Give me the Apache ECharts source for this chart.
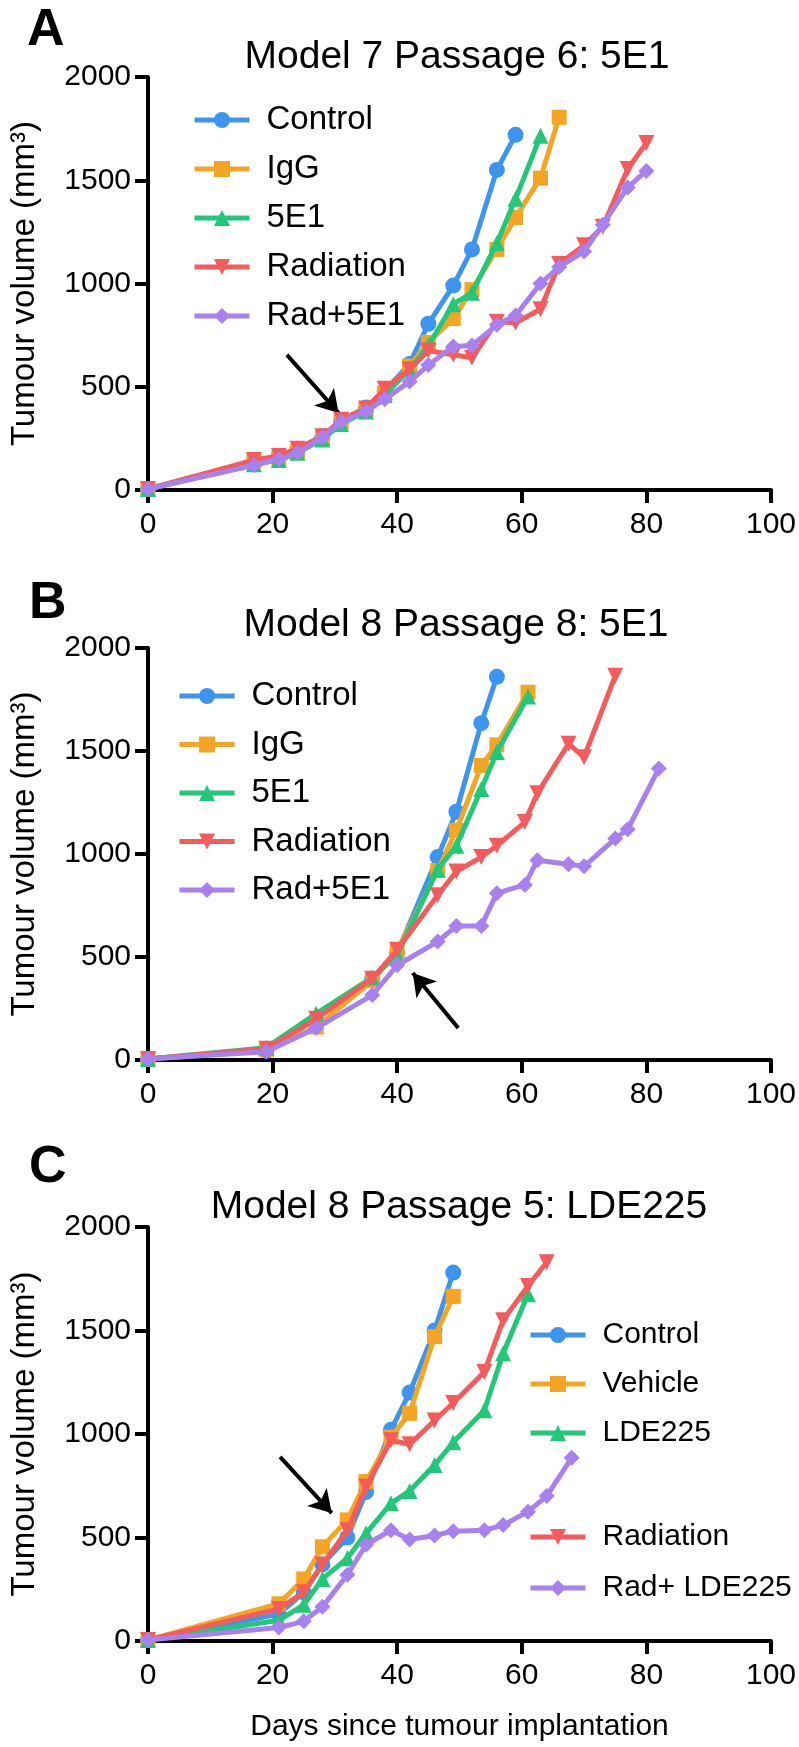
<!DOCTYPE html>
<html><head><meta charset="utf-8">
<script src="https://cdn.jsdelivr.net/npm/echarts@6/dist/echarts.min.js"></script>
<style>html,body{margin:0;padding:0;background:#fff}#c{width:799px;height:1747px}</style>
</head><body><div id="c"></div><script>
// ---------- data ----------
const xTicks = [0, 20, 40, 60, 80, 100];
const yTicks = [0, 500, 1000, 1500, 2000];

const titleA = 'Model 7 Passage 6: 5E1';
const titleB = 'Model 8 Passage 8: 5E1';
const titleC = 'Model 8 Passage 5: LDE225';
const namesAB = ['Control', 'IgG', '5E1', 'Radiation', 'Rad+5E1'];
const namesC = ['Control', 'Vehicle', 'LDE225', 'Radiation', 'Rad+ LDE225'];

// Panel A
const aControlDays = [0,17,21,24,28,31,35,38,42,45,49,52,56,59];
const aControl     = [5,135,165,200,260,335,400,480,610,805,990,1165,1550,1720];
const aIgGDays     = [0,17,21,24,28,31,35,38,42,45,49,52,56,59,63,66];
const aIgG         = [5,140,155,185,250,330,390,470,600,715,830,970,1165,1320,1510,1805];
const a5E1Days     = [0,17,21,24,28,31,35,38,42,45,49,52,56,59,63];
const a5E1         = [5,125,145,180,245,320,380,460,585,700,900,955,1195,1410,1715];
const aRadDays     = [0,17,21,24,28,31,35,38,42,45,49,52,56,59,63,66,70,73,77,80];
const aRad         = [5,145,165,200,260,340,395,490,585,675,655,640,815,810,875,1095,1185,1275,1555,1680];
const aRad5E1Days  = [0,17,21,24,28,31,35,38,42,45,49,52,56,59,63,66,70,73,77,80];
const aRad5E1      = [5,120,150,180,255,330,380,440,525,605,695,700,800,845,1000,1080,1155,1285,1465,1545];
const aArrow       = [[22.3, 654], [30.6, 373]];

// Panel B
const bControlDays = [0,19,27,36,40,46.5,49.5,53.5,56];
const bControl     = [5,45,200,395,520,985,1205,1635,1860];
const bIgGDays     = [0,19,27,36,40,46.5,49.5,53.5,56,61];
const bIgG         = [5,50,160,385,530,920,1115,1430,1530,1785];
const b5E1Days     = [0,19,27,36,40,46.5,49.5,53.5,56,61];
const b5E1         = [5,60,225,400,510,925,1040,1315,1495,1765];
const bRadDays     = [0,19,27,36,40,46.5,49.5,53.5,56,60.5,62.5,67.5,70,75];
const bRad         = [5,55,200,395,535,800,915,985,1040,1155,1295,1535,1470,1865];
const bRad5E1Days  = [0,19,27,36,40,46.5,49.5,53.5,56,60.5,62.5,67.5,70,75,77,82];
const bRad5E1      = [5,40,155,315,460,575,650,650,810,850,970,950,940,1075,1120,1415];
const bArrow       = [[49.8, 155], [42.5, 422]];

// Panel C
const cControlDays = [0,21,25,28,32,35,39,42,46,49];
const cControl     = [5,130,235,370,500,720,1020,1200,1500,1780];
const cVehicleDays = [0,21,25,28,32,35,39,42,46,49];
const cVehicle     = [5,180,300,455,585,770,985,1100,1470,1665];
const cLDEDays     = [0,21,25,28,32,35,39,42,46,49,54,57,61];
const cLDE         = [5,100,175,300,400,520,665,725,850,960,1115,1390,1675];
const cRadDays     = [0,21,25,28,32,35,39,42,46,49,54,57,61,64];
const cRad         = [5,155,235,370,535,745,970,950,1065,1150,1300,1550,1715,1830];
const cRadLDEDays  = [0,21,25,28,32,35,39,42,46,49,54,57,61,64,68];
const cRadLDE      = [5,65,95,165,320,465,535,490,510,530,535,560,625,700,885];
const cArrow       = [[21.2, 889], [29.5, 618]];

// ---------- styling ----------
const FONT = '"Liberation Sans", Arial, Helvetica, sans-serif';
const COLORS = ['#3d95f0', '#f5a524', '#21c877', '#f65b5b', '#a880f0'];
const SYMBOLS = ['circle', 'rect', 'triangle', 'triangle', 'diamond'];
const SIZES = [16, 15, 16, 16, 16];
const ROT = [0, 0, 0, 180, 0];

const grids = [
  {left: 145, right: 26, top: 77, height: 413},
  {left: 145, right: 26, top: 648, height: 412},
  {left: 145, right: 26, top: 1227, height: 414}
];

function pairs(d, v) { return d.map((x, i) => [x, v[i]]); }

function makeSeries(name, idx, g, days, vals, arrow) {
  const s = {
    type: 'line', name: name, xAxisIndex: g, yAxisIndex: g,
    data: pairs(days, vals),
    symbol: SYMBOLS[idx], symbolSize: SIZES[idx], symbolRotate: ROT[idx],
    showAllSymbol: true, clip: false,
    lineStyle: {color: COLORS[idx], width: 5},
    itemStyle: {color: COLORS[idx]},
    emphasis: {disabled: true},
    z: 2 + idx
  };
  if (arrow) {
    s.markLine = {
      silent: true, animation: false,
      symbol: ['none', 'arrow'], symbolSize: [20, 22],
      label: {show: false},
      lineStyle: {color: '#000', width: 4, type: 'solid'},
      data: [[{coord: arrow[0]}, {coord: arrow[1]}]]
    };
  }
  return s;
}

const series = [
  makeSeries(namesAB[0], 0, 0, aControlDays, aControl, aArrow),
  makeSeries(namesAB[1], 1, 0, aIgGDays, aIgG),
  makeSeries(namesAB[2], 2, 0, a5E1Days, a5E1),
  makeSeries(namesAB[3], 3, 0, aRadDays, aRad),
  makeSeries(namesAB[4], 4, 0, aRad5E1Days, aRad5E1),
  makeSeries(namesAB[0], 0, 1, bControlDays, bControl, bArrow),
  makeSeries(namesAB[1], 1, 1, bIgGDays, bIgG),
  makeSeries(namesAB[2], 2, 1, b5E1Days, b5E1),
  makeSeries(namesAB[3], 3, 1, bRadDays, bRad),
  makeSeries(namesAB[4], 4, 1, bRad5E1Days, bRad5E1),
  makeSeries(namesC[0], 0, 2, cControlDays, cControl, cArrow),
  makeSeries(namesC[1], 1, 2, cVehicleDays, cVehicle),
  makeSeries(namesC[2], 2, 2, cLDEDays, cLDE),
  makeSeries(namesC[3], 3, 2, cRadDays, cRad),
  makeSeries(namesC[4], 4, 2, cRadLDEDays, cRadLDE)
];

const axisBase = {
  axisLine: {show: true, onZero: false, lineStyle: {color: '#000', width: 4}},
  axisTick: {show: true, length: 13, lineStyle: {color: '#000', width: 4}},
  splitLine: {show: false}
};

const xAxes = [0, 1, 2].map(g => Object.assign({}, axisBase, {
  type: 'value', gridIndex: g, min: xTicks[0], max: xTicks[xTicks.length - 1],
  interval: xTicks[1] - xTicks[0],
  axisLabel: {fontSize: 30, color: '#000', fontFamily: FONT, margin: 20, formatter: v => String(v)},
  name: g === 2 ? 'Days since tumour implantation' : '',
  nameLocation: 'middle', nameGap: 71,
  nameTextStyle: {fontSize: 30, color: '#000', fontFamily: FONT}
}));
const yAxes = [0, 1, 2].map(g => Object.assign({}, axisBase, {
  type: 'value', gridIndex: g, min: yTicks[0], max: yTicks[yTicks.length - 1],
  interval: yTicks[1] - yTicks[0],
  axisLabel: {fontSize: 30, color: '#000', fontFamily: FONT, margin: 17, formatter: v => String(v)},
  name: 'Tumour volume (mm³)',
  nameLocation: 'middle', nameGap: 107,
  nameTextStyle: {fontSize: 33, color: '#000', fontFamily: FONT}
}));

function legend(names, left, top, pitch, fs) {
  return {
    data: names, orient: 'vertical', left: left, top: top,
    itemWidth: 55, itemHeight: 20, itemGap: pitch - 36,
    selectedMode: false,
    lineStyle: {width: 5},
    textStyle: {fontSize: fs, color: '#000', fontFamily: FONT, lineHeight: 36, padding: [0, 0, 0, 12]}
  };
}

const titleStyle = {fontSize: 39, fontWeight: 'normal', color: '#000', fontFamily: FONT};
const letterStyle = {fontSize: 52, fontWeight: 'bold', color: '#000', fontFamily: FONT};

const option = {
  animation: false,
  backgroundColor: '#fff',
  textStyle: {fontFamily: FONT},
  title: [
    {text: titleA, left: 452, top: 33, textAlign: 'center', textStyle: titleStyle},
    {text: titleB, left: 451, top: 601, textAlign: 'center', textStyle: titleStyle},
    {text: titleC, left: 454, top: 1183, textAlign: 'center', textStyle: titleStyle},
    {text: 'A', left: 22, top: 0, textStyle: letterStyle},
    {text: 'B', left: 24, top: 573, textStyle: letterStyle},
    {text: 'C', left: 24, top: 1137, textStyle: letterStyle}
  ],
  legend: [
    legend(namesAB, 187, 97, 49, 33),
    legend(namesAB, 172, 673, 48.5, 33),
    legend(namesC.slice(0, 3), 523, 1312, 49, 30),
    legend(namesC.slice(3), 523, 1514, 51, 30)
  ],
  grid: grids,
  xAxis: xAxes,
  yAxis: yAxes,
  series: series
};

const chart = echarts.init(document.getElementById('c'), null, {renderer: 'canvas'});
chart.setOption(option);
</script></body></html>
